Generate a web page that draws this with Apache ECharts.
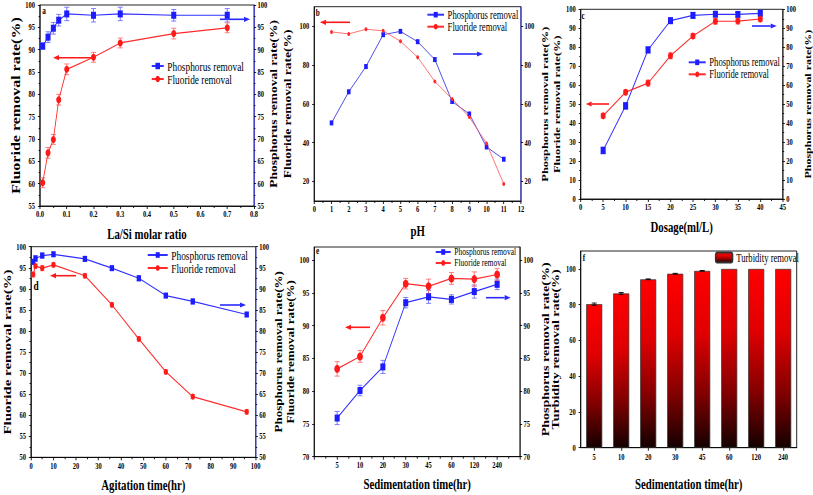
<!DOCTYPE html>
<html><head><meta charset="utf-8">
<script src="https://cdn.jsdelivr.net/npm/echarts@6/dist/echarts.min.js"></script>
<style>
html,body{margin:0;padding:0;overflow:hidden;background:#fff;width:813px;height:495px}
#main{height:495px;transform-origin:0 0;}
</style></head>
<body><div id="main"></div>
<script>
// ---------------- DATA ----------------
// (a) La/Si molar ratio
const aRatio   = [0.01, 0.03, 0.05, 0.07, 0.1, 0.2, 0.3, 0.5, 0.7];
const aPhos    = [90.8, 92.8, 94.8, 96.6, 98.0, 97.7, 98.0, 97.7, 97.7];
const aPhosErr = [0.7, 1.2, 1.3, 1.3, 1.5, 1.5, 1.5, 1.3, 1.5];
const aFluo    = [60.2, 66.9, 69.9, 78.8, 85.6, 88.3, 91.5, 93.6, 94.9];
const aFluoErr = [1.1, 1.2, 1.1, 1.2, 1.2, 1.1, 1.1, 1.2, 1.1];
// (b) pH
const bPH   = [1, 2, 3, 4, 5, 6, 7, 8, 9, 10, 11];
const bPhos = [50.2, 66.2, 79.2, 95.6, 97.3, 92.0, 82.8, 61.2, 54.8, 37.8, 31.5];
const bFluo = [97.0, 96.0, 98.4, 97.6, 92.2, 84.0, 71.5, 62.5, 53.2, 39.6, 18.8];
const bYLabels = [20, 40, 60, 80, 100];
// (c) Dosage
const cDose    = [5, 10, 15, 20, 25, 30, 35, 40];
const cPhos    = [25.6, 49.1, 78.6, 94.0, 96.8, 97.4, 97.3, 97.9];
const cPhosErr = [1.8, 1.8, 1.6, 1.5, 1.5, 1.2, 1.2, 0.9];
const cFluo    = [43.9, 56.3, 61.1, 75.5, 85.9, 93.7, 93.8, 94.9];
const cFluoErr = [1.2, 1.2, 1.5, 1.5, 1.3, 1.5, 1.5, 1.3];
// (d) Agitation time
const dTime    = [1, 2, 5, 10, 24, 36, 48, 60, 72, 96];
const dPhos    = [96.4, 97.2, 97.9, 98.2, 97.1, 94.9, 92.5, 88.4, 87.0, 83.9];
const dPhosErr = [0.6, 0.7, 0.6, 0.5, 0.6, 0.5, 0.6, 0.5, 0.6, 0.5];
const dFluo    = [93.4, 95.4, 94.9, 95.7, 93.1, 86.2, 78.1, 70.3, 64.4, 60.8];
const dFluoErr = [0.6, 0.5, 0.6, 0.5, 0.5, 0.5, 0.5, 0.5, 0.5, 0.5];
// (e) Sedimentation time
const eCats    = ['5', '10', '20', '30', '45', '60', '120', '240'];
const ePhos    = [75.9, 80.1, 83.7, 93.5, 94.4, 94.0, 95.2, 96.3];
const ePhosErr = [1.0, 0.8, 1.0, 0.8, 1.0, 0.7, 1.0, 0.8];
const eFluo    = [83.4, 85.3, 91.2, 96.4, 96.0, 97.2, 97.1, 97.8];
const eFluoErr = [1.1, 0.9, 1.1, 0.8, 1.1, 0.9, 1.1, 0.9];
const eYLabels = [70, 75, 80, 85, 90, 95, 100];
// (f) Turbidity
const fCats    = ['5', '10', '20', '30', '45', '60', '120', '240'];
const fTurb    = [80.3, 86.3, 94.2, 97.3, 98.9, 100, 100, 100];
const fTurbErr = [0.6, 0.5, 0.2, 0.2, 0.2, 0, 0, 0];
const fYLabels = [0, 20, 40, 60, 80, 100];

// ---------------- LAYOUT ----------------
const S = 0.72;                 // horizontal squeeze of the reference
const W = 813 / S;
const X = v => v / S;
const FF = 'Liberation Serif, Times New Roman, Times, serif';
const BLUE = '#1c1cff', RED = '#ff1a1a';

function merge(a, b) {
  const o = Object.assign({}, a);
  for (const k in b) {
    if (b[k] && typeof b[k] === 'object' && !Array.isArray(b[k]) && a[k] && typeof a[k] === 'object' && !Array.isArray(a[k])) o[k] = merge(a[k], b[k]);
    else o[k] = b[k];
  }
  return o;
}
const baseAxis = {
  type: 'value',
  axisLine: {show: true, onZero: false, lineStyle: {color: '#000', width: 1}},
  axisTick: {show: true, length: 3, lineStyle: {color: '#000', width: 1}},
  minorTick: {show: true, splitNumber: 2, length: 2, lineStyle: {color: '#000', width: 1}},
  axisLabel: {color: '#000', fontFamily: FF, fontSize: 9, fontWeight: 'bold'},
  splitLine: {show: false}, minorSplitLine: {show: false},
  nameLocation: 'middle',
  nameTextStyle: {color: '#000', fontFamily: FF, fontWeight: 'bold', fontSize: 15}
};
const zip = (xs, ys) => xs.map((x, i) => [x, ys[i]]);

const grids = [], xAxes = [], yAxes = [], series = [], legends = [], graphics = [];

function grid(L, R, T, B) {
  grids.push({left: X(L), top: T, width: X(R - L), height: B - T, show: true, borderColor: '#000', borderWidth: 1, backgroundColor: 'transparent'});
  return grids.length - 1;
}
function errSeries(xi, yi, xs, ys, es, color, cap) {
  return {
    type: 'custom', xAxisIndex: xi, yAxisIndex: yi, silent: true, z: 3,
    data: xs.map((x, i) => [x, ys[i], es[i]]),
    encode: {x: 0, y: 1},
    renderItem: (params, api) => {
      const x = api.value(0), y = api.value(1), e = api.value(2);
      if (!e) return null;
      const p1 = api.coord([x, y + e]), p2 = api.coord([x, y - e]);
      const st = {stroke: color, lineWidth: 1};
      return {type: 'group', children: [
        {type: 'line', shape: {x1: p1[0], y1: p1[1], x2: p2[0], y2: p2[1]}, style: st},
        {type: 'line', shape: {x1: p1[0] - cap, y1: p1[1], x2: p1[0] + cap, y2: p1[1]}, style: st},
        {type: 'line', shape: {x1: p2[0] - cap, y1: p2[1], x2: p2[0] + cap, y2: p2[1]}, style: st}
      ]};
    }
  };
}
function lineSeries(name, xi, yi, data, sym, size, color, lineColor, width) {
  return {type: 'line', name, xAxisIndex: xi, yAxisIndex: yi, data, symbol: sym, symbolSize: size,
    lineStyle: {color: lineColor, width}, itemStyle: {color}, z: 4, animation: false};
}
function legend(left, top, itemW, itemH, fs, names) {
  legends.push({left: X(left), top, orient: 'vertical', itemGap: 0, itemWidth: X(itemW), itemHeight: itemH,
    selectedMode: false, padding: 0, textStyle: {fontFamily: FF, fontSize: fs, color: '#000', fontWeight: 'normal', overflow: 'none'}, data: names});
}
function arrow(x1, x2, y, color) {
  const dir = Math.sign(x2 - x1), head = 6;
  graphics.push({type: 'line', shape: {x1: X(x1), y1: y, x2: X(x2 - dir * head), y2: y}, style: {stroke: color, lineWidth: 1.6}});
  graphics.push({type: 'polygon', shape: {points: [[X(x2), y], [X(x2 - dir * head), y - 2.6], [X(x2 - dir * head), y + 2.6]]}, style: {fill: color}});
}
function letter(t, x, y, fs) {
  graphics.push({type: 'text', x: X(x), y, style: {text: t, fontFamily: FF, fontWeight: 'bold', fontSize: fs, fill: '#000', align: 'center', verticalAlign: 'middle'}});
}
const P = ['Phosphorus removal', 'Fluoride removal'];

// ---- panel a ----
let g = grid(40, 254, 5, 206);
xAxes.push(merge(baseAxis, {gridIndex: g, min: 0, max: 0.8, interval: 0.1, name: 'La/Si molar ratio', nameGap: 20,
  axisLabel: {margin: 4, formatter: v => v.toFixed(1)}}));
yAxes.push(merge(baseAxis, {gridIndex: g, position: 'left', min: 55, max: 100, interval: 5, name: 'Fluoride removal rate(%)',
  nameRotate: 90, nameGap: 20, nameTextStyle: {fontSize: 16}, axisLabel: {margin: 7}}));
yAxes.push(merge(baseAxis, {gridIndex: g, position: 'right', min: 55, max: 100, interval: 5,
  axisLine: {lineStyle: {color: '#3a3ad0'}}, axisLabel: {margin: 5}}));
series.push(lineSeries(P[0], g, 2 * g + 1, zip(aRatio, aPhos), 'rect', 7, BLUE, '#3030ff', 1.2));
series.push(errSeries(g, 2 * g + 1, aRatio, aPhos, aPhosErr, '#6a6aff', 3.5));
series.push(lineSeries(P[1], g, 2 * g, zip(aRatio, aFluo), 'circle', 7, RED, '#ff2a2a', 1.2));
series.push(errSeries(g, 2 * g, aRatio, aFluo, aFluoErr, '#ff6a6a', 3.5));
legend(151, 59.5, 12, 8, 13, P);
arrow(95, 53, 57.7, RED); arrow(220, 250, 19.3, '#2a2aff');
letter('a', 44, 11, 10);

// ---- panel b ----
g = grid(314.3, 521, 6.7, 201);
xAxes.push(merge(baseAxis, {gridIndex: g, min: 0, max: 12, interval: 1, name: 'pH', nameGap: 22, axisLabel: {margin: 4}}));
yAxes.push(merge(baseAxis, {gridIndex: g, position: 'left', min: 10, max: 110, interval: 10,
  name: 'Phosphorus removal rate(%)\nFluoride removal rate(%)', nameRotate: 90, nameGap: 27,
  nameTextStyle: {fontSize: 13.5, lineHeight: X(14)},
  axisLabel: {margin: 7, customValues: bYLabels}, axisTick: {customValues: bYLabels}, minorTick: {show: false}}));
yAxes.push(merge(baseAxis, {gridIndex: g, position: 'right', min: 10, max: 110, interval: 10,
  axisLine: {lineStyle: {color: '#2a2ae0'}}, axisLabel: {margin: 5, customValues: bYLabels}, axisTick: {customValues: bYLabels}, minorTick: {show: false}}));
series.push(lineSeries(P[0], g, 2 * g + 1, zip(bPH, bPhos), 'rect', 5, BLUE, '#3535e0', 1));
series.push(lineSeries(P[1], g, 2 * g, zip(bPH, bFluo), 'circle', 4, '#ff2a2a', '#ff6060', 1));
legend(426.7, 8.7, 16.6, 7, 12, P);
arrow(350, 320, 22.3, RED); arrow(453, 483, 54, '#2a2aff');
letter('b', 317.7, 12.7, 10);

// ---- panel c ----
g = grid(580.7, 785, 9.3, 199);
xAxes.push(merge(baseAxis, {gridIndex: g, min: 0, max: 45, interval: 5, name: 'Dosage(ml/L)', nameGap: 20, axisLabel: {margin: 4}}));
yAxes.push(merge(baseAxis, {gridIndex: g, position: 'left', min: 0, max: 100, interval: 10,
  name: 'Phosphorus removal rate(%)\nFluoride removal rate(%)', nameRotate: 90, nameGap: 22,
  nameTextStyle: {fontSize: 12.5, lineHeight: X(12)}, axisLabel: {margin: 7}}));
yAxes.push(merge(baseAxis, {gridIndex: g, position: 'right', min: 0, max: 100, interval: 10,
  name: 'Phosphorus removal rate(%)', nameRotate: 90, nameGap: 29, nameTextStyle: {fontSize: 12},
  axisLine: {lineStyle: {color: '#222'}}, axisLabel: {margin: 5}}));
series.push(lineSeries(P[0], g, 2 * g + 1, zip(cDose, cPhos), 'rect', 7, BLUE, '#3030ff', 1.2));
series.push(errSeries(g, 2 * g + 1, cDose, cPhos, cPhosErr, '#6a6aff', 3.5));
series.push(lineSeries(P[1], g, 2 * g, zip(cDose, cFluo), 'circle', 7, RED, '#ff2a2a', 1.2));
series.push(errSeries(g, 2 * g, cDose, cFluo, cFluoErr, '#ff6a6a', 3.5));
legend(688, 56.3, 17, 7, 12, P);
arrow(609, 585.7, 104, RED); arrow(752, 776.7, 26, '#2a2aff');
letter('c', 583, 16, 10);

// ---- panel d ----
g = grid(31, 255.7, 246.7, 457.3);
xAxes.push(merge(baseAxis, {gridIndex: g, min: 0, max: 100, interval: 10, name: 'Agitation time(hr)', nameGap: 20, axisLabel: {margin: 4}}));
yAxes.push(merge(baseAxis, {gridIndex: g, position: 'left', min: 50, max: 100, interval: 5, name: 'Fluoride removal rate(%)',
  nameRotate: 90, nameGap: 25, nameTextStyle: {fontSize: 15}, axisLabel: {margin: 7}}));
yAxes.push(merge(baseAxis, {gridIndex: g, position: 'right', min: 50, max: 100, interval: 5,
  axisLine: {lineStyle: {color: '#3a3ad0'}}, axisLabel: {margin: 5}}));
series.push(lineSeries(P[0], g, 2 * g + 1, zip(dTime, dPhos), 'rect', 6, BLUE, '#3030ff', 1.2));
series.push(errSeries(g, 2 * g + 1, dTime, dPhos, dPhosErr, '#6a6aff', 3));
series.push(lineSeries(P[1], g, 2 * g, zip(dTime, dFluo), 'circle', 6, RED, '#ff2a2a', 1.2));
series.push(errSeries(g, 2 * g, dTime, dFluo, dFluoErr, '#ff6a6a', 3));
legend(147, 248.5, 20, 7, 13, P);
arrow(76, 50, 275.7, RED); arrow(220, 246, 305, '#2a2aff');
letter('d', 36, 285, 13);

// ---- panel e ----
g = grid(314.3, 520, 247, 456.7);
const ePos = eCats.map((c, i) => i + 1);
xAxes.push(merge(baseAxis, {gridIndex: g, min: 0, max: eCats.length + 1, interval: 1, name: 'Sedimentation time(hr)', nameGap: 20,
  axisLabel: {margin: 4, formatter: v => eCats[v - 1] || ''}}));
yAxes.push(merge(baseAxis, {gridIndex: g, position: 'left', min: 70, max: 102, interval: 5,
  name: 'Phosphorus removal rate(%)\nFluoride removal rate(%)', nameRotate: 90, nameGap: 25,
  nameTextStyle: {fontSize: 13, lineHeight: X(12)},
  axisLabel: {margin: 7, customValues: eYLabels}, axisTick: {customValues: eYLabels}, minorTick: {show: false}}));
yAxes.push(merge(baseAxis, {gridIndex: g, position: 'right', min: 70, max: 102, interval: 5,
  axisLine: {lineStyle: {color: '#222'}}, axisLabel: {margin: 5, customValues: eYLabels}, axisTick: {customValues: eYLabels}, minorTick: {show: false}}));
series.push(lineSeries(P[0], g, 2 * g + 1, zip(ePos, ePhos), 'rect', 7, BLUE, '#3030ff', 1.2));
series.push(errSeries(g, 2 * g + 1, ePos, ePhos, ePhosErr, '#6a6aff', 3.5));
series.push(lineSeries(P[1], g, 2 * g, zip(ePos, eFluo), 'circle', 8, RED, '#ff2a2a', 1.2));
series.push(errSeries(g, 2 * g, ePos, eFluo, eFluoErr, '#ff6a6a', 3.5));
legend(435, 246.5, 15, 7, 10.5, P);
arrow(370, 345, 327.3, RED); arrow(486, 510.7, 297.7, '#2a2aff');
letter('e', 317.7, 251, 10);

// ---- panel f ----
g = grid(580.7, 796.7, 251, 447.7);
xAxes.push(merge(baseAxis, {gridIndex: g, type: 'category', data: fCats, boundaryGap: true, name: 'Sedimentation time(hr)', nameGap: 29,
  axisTick: {alignWithLabel: true}, minorTick: {show: false}, axisLabel: {margin: 5}}));
yAxes.push(merge(baseAxis, {gridIndex: g, position: 'left', min: 0, max: 110, interval: 10,
  name: 'Phosphorus removal rate(%)\nTurbidity removal rate(%)', nameRotate: 90, nameGap: 27,
  nameTextStyle: {fontSize: 14, lineHeight: X(10.5)},
  axisLabel: {margin: 7, customValues: fYLabels}, axisTick: {customValues: fYLabels}, minorTick: {show: false}}));
yAxes.push({type: 'value', gridIndex: g, show: false, min: 0, max: 110});
const barGrad = {type: 'linear', x: 0, y: 0, x2: 0, y2: 1, colorStops: [
  {offset: 0, color: '#ff0000'}, {offset: 0.35, color: '#e00000'}, {offset: 0.7, color: '#800000'}, {offset: 1, color: '#140000'}]};
series.push({type: 'bar', name: 'Turbidity removal', xAxisIndex: g, yAxisIndex: 2 * g, data: fTurb, barWidth: '59%',
  itemStyle: {color: barGrad, borderColor: '#333', borderWidth: 0.8}, animation: false});
series.push(errSeries(g, 2 * g, fCats.map((c, i) => i), fTurb, fTurbErr, '#000', 3.5));
legends.push({right: X(813 - 799), top: 251.5, itemWidth: X(17), itemHeight: 10, selectedMode: false, padding: 0,
  textStyle: {fontFamily: FF, fontSize: 12, color: '#000', fontWeight: 'normal', overflow: 'none'}, data: ['Turbidity removal']});
letter('f', 584, 257.7, 10);

// ---------------- CHART ----------------
const el = document.getElementById('main');
el.style.width = W + 'px';
el.style.transform = 'scaleX(' + S + ')';
const chart = echarts.init(el, null, {renderer: 'svg', width: W, height: 495});
chart.setOption({
  animation: false,
  backgroundColor: '#fff',
  textStyle: {fontFamily: FF},
  grid: grids, xAxis: xAxes, yAxis: yAxes, series, legend: legends, graphic: graphics
});
</script>
</body></html>
